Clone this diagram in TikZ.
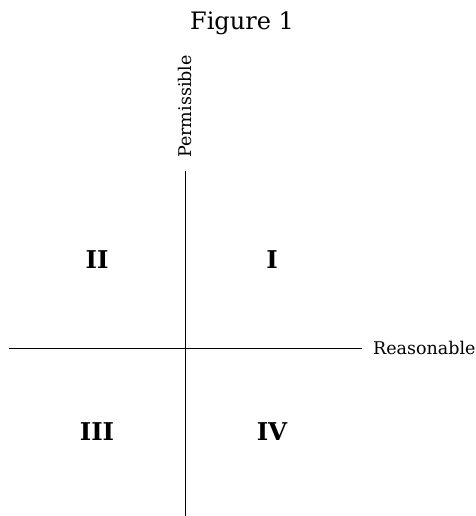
\documentclass[tikz,border=0pt]{standalone}
\usepackage{fontspec}
\setmainfont{DejaVu Serif}
\begin{document}
\begin{tikzpicture}[x=1pt,y=-1pt,
  axis/.style={line width=1pt},
  lbl/.style={inner sep=0pt,font=\fontsize{17.5}{20}\selectfont},
  quad/.style={inner sep=0pt,font=\fontsize{24.5}{28}\selectfont\bfseries}]
\useasboundingbox (0,0) rectangle (475,516);
\node[inner sep=0pt,font=\fontsize{24}{28}\selectfont] (title) at (242,23) {Figure 1};
\coordinate (vt) at (185,171);
\coordinate (vb) at (185,516);
\coordinate (hl) at (9,348);
\coordinate (hr) at (362,348);
\draw[axis] (vt) -- (vb);
\draw[axis] (hl) -- (hr);
\node[lbl,anchor=west] (reas) at (373,348) {Reasonable};
\node[lbl,rotate=90,anchor=west] (perm) at (185,158) {Permissible};
\node[quad] (q2) at (97,260) {II};
\node[quad] (q1) at (272,260) {I};
\node[quad] (q3) at (97,432) {III};
\node[quad] (q4) at (272,432) {IV};
\end{tikzpicture}
\end{document}
